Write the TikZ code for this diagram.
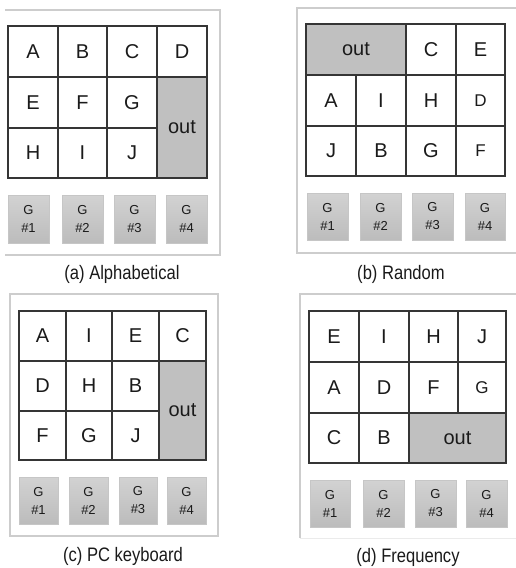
\documentclass[tikz,border=0pt]{standalone}
\usepackage{fontspec}
\usepackage{graphicx}
\setmainfont{Liberation Sans}
\definecolor{gridc}{HTML}{353535}
\definecolor{outc}{HTML}{C0C0C0}
\definecolor{framec}{HTML}{CDCDCD}
\definecolor{btnTop}{HTML}{D2D2D2}
\definecolor{btnBot}{HTML}{BCBCBC}
\definecolor{btnBorder}{HTML}{C6C6C6}
\definecolor{txtc}{HTML}{1A1A1A}
\newcommand\mkbox[7]{%
  \node[#7, minimum width={(#4-#2)*1pt}, minimum height={(#5-#3)*1pt}] (#1) at ({(#2+#4)/2},{(#3+#5)/2}) {#6};}
\tikzset{
  cellbox/.style={draw=gridc, line width=1.2pt, fill=white, inner sep=0pt, outer sep=0pt,
    text=txtc, font=\fontsize{20}{22}\selectfont},
  smallcell/.style={cellbox, font=\fontsize{17}{20}\selectfont},
  outbox/.style={cellbox, fill=outc},
  btnbox/.style={draw=btnBorder, line width=0.8pt, top color=btnTop, bottom color=btnBot,
    inner sep=0pt, outer sep=0pt, align=center, text=txtc, font=\fontsize{13}{18}\selectfont},
  framel/.style={draw=framec, line width=1.5pt},
  caption/.style={text=txtc, font=\fontsize{19.5}{22}\selectfont, inner sep=0pt}
}
\newcommand\capt[1]{\scalebox{0.85}[1]{#1}}
\begin{document}
\begin{tikzpicture}[x=1pt,y=-1pt]
\useasboundingbox[fill=white] (0,0) rectangle (516,568);
% ---------- frames ----------
\draw[framel] (5,10) -- (220,10) -- (220,255) -- (5,255);
\draw[framel] (516,8) -- (297,8) -- (297,253) -- (516,253);
\draw[framel] (10,294) rectangle (218,536);
\draw[framel] (516,294) -- (300,294) -- (300,538);
\draw[draw=framec!40, line width=1pt] (300,538) -- (516,538);
% ---------- (a) Alphabetical ----------
\mkbox{aA}{8}{26}{58}{77}{A}{cellbox}
\mkbox{aB}{58}{26}{107}{77}{B}{cellbox}
\mkbox{aC}{107}{26}{157}{77}{C}{cellbox}
\mkbox{aD}{157}{26}{207}{77}{D}{cellbox}
\mkbox{aE}{8}{77}{58}{128}{E}{cellbox}
\mkbox{aF}{58}{77}{107}{128}{F}{cellbox}
\mkbox{aG}{107}{77}{157}{128}{G}{cellbox}
\mkbox{aH}{8}{128}{58}{178}{H}{cellbox}
\mkbox{aI}{58}{128}{107}{178}{I}{cellbox}
\mkbox{aJ}{107}{128}{157}{178}{J}{cellbox}
\mkbox{aout}{157}{77}{207}{178}{out}{outbox}
\mkbox{ag1}{8}{195}{49}{243}{G\\\#1}{btnbox}
\mkbox{ag2}{62}{195}{103}{243}{G\\\#2}{btnbox}
\mkbox{ag3}{114}{195}{155}{243}{G\\\#3}{btnbox}
\mkbox{ag4}{166}{195}{207}{243}{G\\\#4}{btnbox}
\node[caption] (acap) at (122,274) {\capt{(a) Alphabetical}};
% ---------- (b) Random ----------
\mkbox{bout}{306}{24}{406}{75}{out}{outbox}
\mkbox{bC}{406}{24}{456}{75}{C}{cellbox}
\mkbox{bE}{456}{24}{505}{75}{E}{cellbox}
\mkbox{bA}{306}{75}{356}{126}{A}{cellbox}
\mkbox{bI}{356}{75}{406}{126}{I}{cellbox}
\mkbox{bH}{406}{75}{456}{126}{H}{cellbox}
\mkbox{bD}{456}{75}{505}{126}{D}{smallcell}
\mkbox{bJ}{306}{126}{356}{176}{J}{cellbox}
\mkbox{bB}{356}{126}{406}{176}{B}{cellbox}
\mkbox{bG}{406}{126}{456}{176}{G}{cellbox}
\mkbox{bF}{456}{126}{505}{176}{F}{smallcell}
\mkbox{bg1}{307}{193}{348}{240}{G\\\#1}{btnbox}
\mkbox{bg2}{360}{193}{401}{240}{G\\\#2}{btnbox}
\mkbox{bg3}{412}{193}{453}{240}{G\\\#3}{btnbox}
\mkbox{bg4}{465}{193}{505}{240}{G\\\#4}{btnbox}
\node[caption] (bcap) at (401,274) {\capt{(b) Random}};
% ---------- (c) PC keyboard ----------
\mkbox{cA}{19}{311}{66}{361}{A}{cellbox}
\mkbox{cI}{66}{311}{112}{361}{I}{cellbox}
\mkbox{cE}{112}{311}{159}{361}{E}{cellbox}
\mkbox{cC}{159}{311}{206}{361}{C}{cellbox}
\mkbox{cD}{19}{361}{66}{411}{D}{cellbox}
\mkbox{cH}{66}{361}{112}{411}{H}{cellbox}
\mkbox{cB}{112}{361}{159}{411}{B}{cellbox}
\mkbox{cF}{19}{411}{66}{460}{F}{cellbox}
\mkbox{cG}{66}{411}{112}{460}{G}{cellbox}
\mkbox{cJ}{112}{411}{159}{460}{J}{cellbox}
\mkbox{cout}{159}{361}{206}{460}{out}{outbox}
\mkbox{cg1}{19}{477}{58}{524}{G\\\#1}{btnbox}
\mkbox{cg2}{69}{477}{108}{524}{G\\\#2}{btnbox}
\mkbox{cg3}{119}{477}{157}{524}{G\\\#3}{btnbox}
\mkbox{cg4}{167}{477}{206}{524}{G\\\#4}{btnbox}
\node[caption] (ccap) at (123,556) {\capt{(c) PC keyboard}};
% ---------- (d) Frequency ----------
\mkbox{dE}{309}{311}{359}{362}{E}{cellbox}
\mkbox{dI}{359}{311}{409}{362}{I}{cellbox}
\mkbox{dH}{409}{311}{458}{362}{H}{cellbox}
\mkbox{dJ}{458}{311}{506}{362}{J}{cellbox}
\mkbox{dA}{309}{362}{359}{413}{A}{cellbox}
\mkbox{dD}{359}{362}{409}{413}{D}{cellbox}
\mkbox{dF}{409}{362}{458}{413}{F}{cellbox}
\mkbox{dG}{458}{362}{506}{413}{G}{smallcell}
\mkbox{dC}{309}{413}{359}{463}{C}{cellbox}
\mkbox{dB}{359}{413}{409}{463}{B}{cellbox}
\mkbox{dout}{409}{413}{506}{463}{out}{outbox}
\mkbox{dg1}{310}{480}{350}{527}{G\\\#1}{btnbox}
\mkbox{dg2}{363}{480}{404}{527}{G\\\#2}{btnbox}
\mkbox{dg3}{415}{480}{456}{527}{G\\\#3}{btnbox}
\mkbox{dg4}{466}{480}{507}{527}{G\\\#4}{btnbox}
\node[caption] (dcap) at (408,557) {\capt{(d) Frequency}};
\end{tikzpicture}
\end{document}
